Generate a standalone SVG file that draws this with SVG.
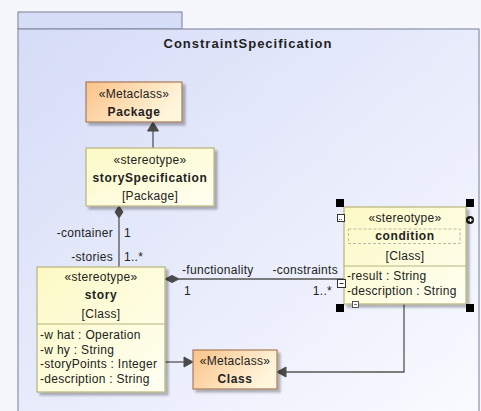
<svg xmlns="http://www.w3.org/2000/svg" width="481" height="411" viewBox="0 0 481 411">
  <defs>
    <linearGradient id="frameFill" x1="0" y1="0" x2="1" y2="1">
      <stop offset="0" stop-color="#d5dcf7"/>
      <stop offset="1" stop-color="#fafbff"/>
    </linearGradient>
    <linearGradient id="stereoFill" x1="0" y1="0" x2="1" y2="1">
      <stop offset="0" stop-color="#fcf9c4"/>
      <stop offset="1" stop-color="#fffff2"/>
    </linearGradient>
    <linearGradient id="metaFill" x1="0" y1="0" x2="1" y2="0.4">
      <stop offset="0" stop-color="#fbc288"/>
      <stop offset="1" stop-color="#fff6dc"/>
    </linearGradient>
    <filter id="shadow" x="-10%" y="-10%" width="130%" height="130%">
      <feDropShadow dx="3" dy="3" stdDeviation="1.2" flood-color="#000" flood-opacity="0.28"/>
    </filter>
  </defs>
  <style>
    text { font-family: "Liberation Sans", Arial, sans-serif; font-size: 12px; fill: #222; letter-spacing: 0.3px; }
    .c { text-anchor: middle; }
    .r { text-anchor: end; }
    .b { font-weight: bold; letter-spacing: 0.6px; }
    .title { font-size: 13px; font-weight: bold; letter-spacing: 1px; }
    .stereo { fill: url(#stereoFill); stroke: #b7b37c; stroke-width: 1.2; }
    .meta { fill: url(#metaFill); stroke: #a77a5a; stroke-width: 1.2; }
    .line { fill: none; stroke: #555; stroke-width: 1.3; }
    .head { fill: #4a4a4a; stroke: #4a4a4a; stroke-width: 1; }
    .handle { fill: #000; }
  </style>

  <!-- page background -->
  <rect x="0" y="0" width="481" height="411" fill="#f6f7fc"/>

  <!-- package frame -->
  <g id="frame">
    <rect x="18" y="12" width="164" height="17" fill="#d6ddf7" stroke="#8a8fa6" stroke-width="1.2"/>
    <rect x="18" y="29" width="461" height="390" fill="url(#frameFill)" stroke="#8a8fa6" stroke-width="1.2"/>
    <text class="title c" x="248" y="48">ConstraintSpecification</text>
  </g>

  <!-- connectors -->
  <g id="connectors">
    <!-- storySpecification extends Package -->
    <line class="line" x1="153" y1="148" x2="153" y2="131"/>
    <polygon class="head" points="153,122 147.5,131 158.5,131"/>
    <!-- container / stories composition -->
    <line class="line" x1="119" y1="218" x2="119" y2="267"/>
    <polygon class="head" points="119,206 123,212 119,218 115,212"/>
    <text class="r" x="113" y="237">-container</text>
    <text x="124" y="237">1</text>
    <text class="r" x="113" y="261">-stories</text>
    <text x="124" y="261">1..*</text>
    <!-- functionality / constraints composition -->
    <line class="line" x1="179" y1="279" x2="344" y2="279"/>
    <polygon class="head" points="165,279 172,275.5 179,279 172,282.5"/>
    <text x="182" y="274">-functionality</text>
    <text x="184" y="295">1</text>
    <text class="r" x="338" y="274">-constraints</text>
    <text class="r" x="332" y="295">1..*</text>
    <!-- story extends Class -->
    <line class="line" x1="165" y1="362" x2="185" y2="362"/>
    <polygon class="head" points="193,362 184,357 184,367"/>
    <!-- condition extends Class -->
    <polyline class="line" points="404,304 404,372 286,372"/>
    <polygon class="head" points="277,372 286,367 286,377"/>
  </g>

  <g id="Package">
    <rect class="meta" x="86" y="82" width="96" height="40" filter="url(#shadow)"/>
    <text class="c" x="134" y="98">«Metaclass»</text>
    <text class="c b" x="134" y="116">Package</text>
  </g>

  <g id="storySpecification">
    <rect class="stereo" x="86" y="148" width="128" height="58" filter="url(#shadow)"/>
    <text class="c" x="150" y="164">«stereotype»</text>
    <text class="c b" x="150" y="182">storySpecification</text>
    <text class="c" x="150" y="200">[Package]</text>
  </g>

  <g id="story">
    <rect class="stereo" x="37" y="267" width="128" height="125" filter="url(#shadow)"/>
    <line x1="37" y1="324" x2="165" y2="324" stroke="#b7b37c" stroke-width="1.2"/>
    <text class="c" x="101" y="281">«stereotype»</text>
    <text class="c b" x="101" y="299">story</text>
    <text class="c" x="101" y="318">[Class]</text>
    <text x="40" y="339">-w hat : Operation</text>
    <text x="40" y="354">-w hy : String</text>
    <text x="40" y="368">-storyPoints : Integer</text>
    <text x="40" y="383">-description : String</text>
  </g>

  <g id="condition">
    <rect class="stereo" x="344" y="207" width="122" height="97" filter="url(#shadow)"/>
    <line x1="344" y1="266" x2="466" y2="266" stroke="#b7b37c" stroke-width="1.2"/>
    <rect x="348.5" y="229" width="111.5" height="14.5" fill="none" stroke="#b9b9a8" stroke-dasharray="3,2"/>
    <text class="c" x="405" y="222">«stereotype»</text>
    <text class="c b" x="405" y="240">condition</text>
    <text class="c" x="405" y="260">[Class]</text>
    <text x="347" y="280">-result : String</text>
    <text x="347" y="295">-description : String</text>
    <!-- selection handles -->
    <rect class="handle" x="336" y="199" width="8" height="8"/>
    <rect class="handle" x="466" y="199" width="8" height="8"/>
    <rect class="handle" x="336" y="304" width="8" height="8"/>
    <rect class="handle" x="466" y="304" width="8" height="8"/>
    <!-- adornments -->
    <rect x="337.5" y="214.5" width="7" height="7" fill="#fff" stroke="#333" stroke-width="1"/>
    <line x1="339" y1="219.5" x2="343" y2="219.5" stroke="#333" stroke-width="0.8" stroke-dasharray="1,1"/>
    <circle cx="470" cy="220" r="4" fill="#111"/>
    <line x1="468" y1="220" x2="472.5" y2="220" stroke="#fff" stroke-width="1.2"/>
    <line x1="470.5" y1="218" x2="470.5" y2="222" stroke="#fff" stroke-width="1.2"/>
    <rect x="337.5" y="279.5" width="8" height="8" fill="#fff" stroke="#333" stroke-width="1"/>
    <line x1="339.5" y1="283.5" x2="343.5" y2="283.5" stroke="#333" stroke-width="1"/>
    <rect x="352.5" y="301.5" width="6" height="6" fill="#fff" stroke="#333" stroke-width="0.8"/>
    <line x1="354" y1="304.5" x2="357" y2="304.5" stroke="#333" stroke-width="0.7"/>
  </g>

  <g id="Class">
    <rect class="meta" x="193" y="350" width="84" height="39" filter="url(#shadow)"/>
    <text class="c" x="235" y="365">«Metaclass»</text>
    <text class="c b" x="235" y="383">Class</text>
  </g>
</svg>
